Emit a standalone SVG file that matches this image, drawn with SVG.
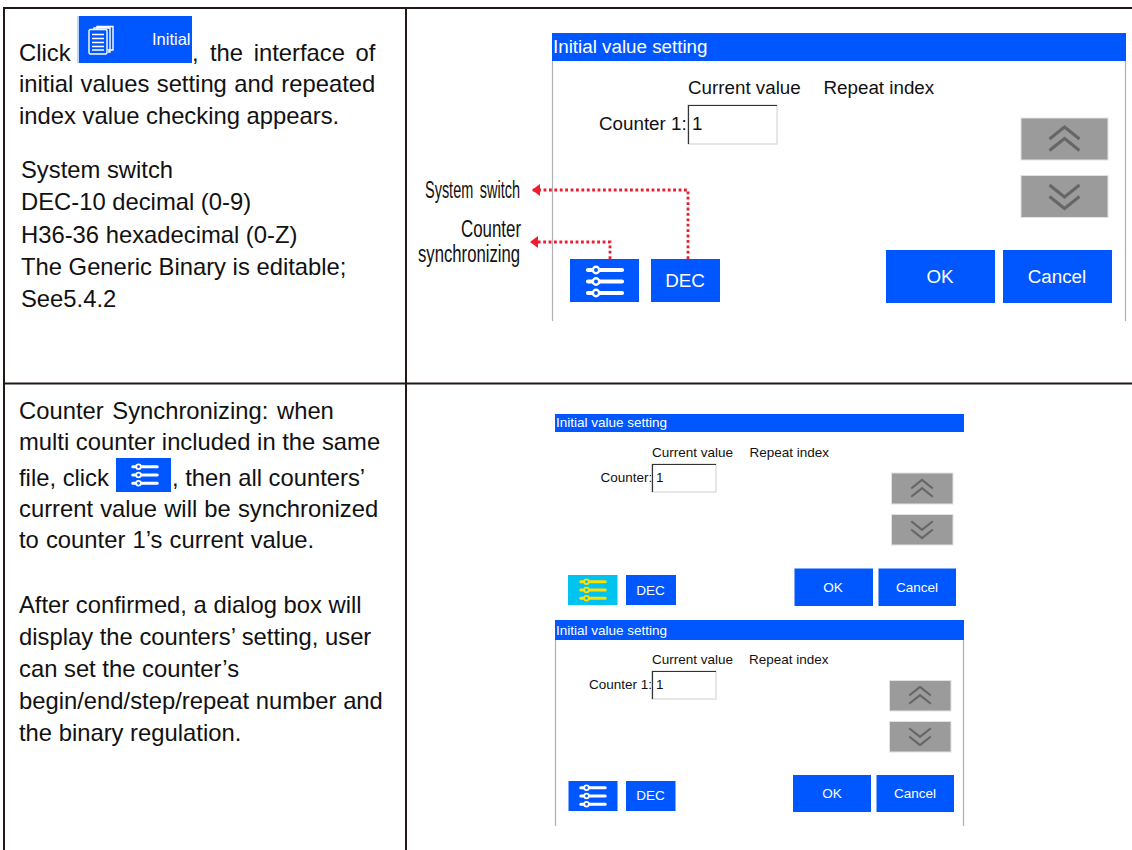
<svg xmlns="http://www.w3.org/2000/svg" width="1132" height="850" viewBox="0 0 1132 850">
<style>
text{font-family:"Liberation Sans",Arial,sans-serif}
.b{font-size:23.8px;fill:#111}
.tl{fill:none;stroke:#231815;stroke-width:2}
.blue{fill:#0057ff}
.gray{fill:#9b9b9b;stroke:#e2e2e2;stroke-width:1}
.w{fill:#fff;text-anchor:middle}
.bk{fill:#111}
.f1{font-size:18.8px}
.f2{font-size:13.500px}
.side{stroke:#b0b0b0;stroke-width:1.2;fill:none}
.con{fill:none;stroke:#ee1c2e;stroke-width:2.8;stroke-dasharray:2.8 2.6}
.cond{font-size:23px;fill:#111}
.inp{fill:#fff;stroke:#cfcfcf;stroke-width:1}
.inpd{fill:none;stroke:#333;stroke-width:1.2}
</style>
<defs>
<marker id="arr" markerUnits="userSpaceOnUse" markerWidth="9" markerHeight="12" refX="8" refY="6" orient="auto"><path d="M0 0L8 6L0 12Z" fill="#ee1c2e"/></marker>
<g id="sync"><path d="M-17 -11.500H17M-17 0H17M-17 11.500H17" stroke="#fff" stroke-width="4.200" stroke-linecap="round" fill="none"/><g fill="#0057ff" stroke="#fff" stroke-width="2.400"><circle cx="-9" cy="-11.500" r="3.200"/><circle cx="-9" cy="0" r="3.200"/><circle cx="-9" cy="11.500" r="3.200"/></g></g>
<g id="syncA"><path d="M-17 -11.500H17M-17 0H17M-17 11.500H17" stroke="#ffe000" stroke-width="4.200" stroke-linecap="round" fill="none"/><g fill="#00c3f0" stroke="#ffe000" stroke-width="2.400"><circle cx="-9" cy="-11.500" r="3.200"/><circle cx="-9" cy="0" r="3.200"/><circle cx="-9" cy="11.500" r="3.200"/></g></g>
<path id="up" d="M-15 0L0 -12L15 0M-15 11.500L0 -0.500L15 11.500" fill="none" stroke="#666" stroke-width="3"/>
<path id="down" d="M-15 0L0 12L15 0M-15 -11.500L0 0.500L15 -11.500" fill="none" stroke="#666" stroke-width="3"/>
</defs>
<rect width="1132" height="850" fill="#fff"/>

<g id="table">
<path class="tl" d="M4 851V8H1132M406 8V851M4 383.500H1132"/>
</g>

<g id="text-top">
<text class="b" x="19" y="61">Click</text>
<rect x="77" y="16" width="115" height="47" fill="#bcd6fb"/>
<rect x="79" y="16" width="113" height="47" class="blue"/>
<g fill="none" stroke="#fff" stroke-width="1.400">
<path d="M97 29V26.500H113V50H108M94 29V28H110V52H108"/>
<rect x="89" y="29.500" width="18" height="24.500" rx="1.500" fill="#0057ff"/>
<path d="M92 34.500H104M92 38.500H104M92 42.500H104M92 46.500H104M92 50H104" stroke-width="1.500"/>
</g>
<text x="152" y="45" font-size="16.500" fill="#fff">Initial</text>
<text class="b" x="192" y="61">,</text>
<text class="b" x="210" y="61" word-spacing="4">the interface of</text>
<text class="b" x="19" y="92" word-spacing="0.750">initial values setting and repeated</text>
<text class="b" x="19" y="124">index value checking appears.</text>
<text class="b" x="21" y="177.500">System switch</text>
<text class="b" x="21" y="210">DEC-10 decimal (0-9)</text>
<text class="b" x="21" y="242.500">H36-36 hexadecimal (0-Z)</text>
<text class="b" x="21" y="275">The Generic Binary is editable;</text>
<text class="b" x="21" y="307">See5.4.2</text>
</g>

<g id="text-bottom">
<text class="b" x="19" y="419" word-spacing="2">Counter Synchronizing: when</text>
<text class="b" x="19" y="450">multi counter included in the same</text>
<text class="b" x="19" y="486">file, click</text>
<rect x="116" y="458" width="55" height="34" class="blue"/>
<use href="#sync" transform="translate(145 475) scale(.72)"/>
<text class="b" x="172" y="486">, then all counters’</text>
<text class="b" x="19" y="517" word-spacing="0.500">current value will be synchronized</text>
<text class="b" x="19" y="548" word-spacing="0.500">to counter 1’s current value.</text>
<text class="b" x="19" y="612.500">After confirmed, a dialog box will</text>
<text class="b" x="19" y="645">display the counters’ setting, user</text>
<text class="b" x="19" y="677">can set the counter’s</text>
<text class="b" x="19" y="709">begin/end/step/repeat number and</text>
<text class="b" x="19" y="741">the binary regulation.</text>
</g>

<g id="dialog-1">
<path class="side" d="M552.500 61V321M1125.500 61V321"/>
<rect x="552" y="33" width="574" height="28" class="blue"/>
<text class="f1" x="553" y="53" fill="#fff">Initial value setting</text>
<text class="bk f1" x="688" y="94">Current value</text>
<text class="bk f1" x="823.500" y="94">Repeat index</text>
<text class="bk f1" x="599" y="130">Counter 1:</text>
<rect class="inp" x="688" y="105" width="89" height="39"/>
<path class="inpd" d="M688.500 144V105.500H777"/>
<text class="bk f1" x="692" y="130">1</text>
<rect class="gray" x="1021" y="118" width="87" height="42"/>
<use href="#up" transform="translate(1064.500 139)"/>
<rect class="gray" x="1021" y="175.500" width="87" height="42"/>
<use href="#down" transform="translate(1064.500 196.500)"/>
<rect class="blue" x="886" y="250" width="109" height="53"/>
<text class="w f1" x="940" y="283">OK</text>
<rect class="blue" x="1003" y="250" width="109" height="53"/>
<text class="w f1" x="1057" y="283">Cancel</text>
<rect class="blue" x="570" y="259" width="69" height="43"/>
<use href="#sync" transform="translate(605 281.500)"/>
<rect class="blue" x="651" y="259" width="69" height="43"/>
<text class="w f1" x="685" y="287">DEC</text>
</g>

<g id="labels">
<text class="cond" x="425" y="198" textLength="95" lengthAdjust="spacingAndGlyphs" word-spacing="4">System switch</text>
<text class="cond" x="461" y="237" textLength="60" lengthAdjust="spacingAndGlyphs">Counter</text>
<text class="cond" x="418" y="262" textLength="102" lengthAdjust="spacingAndGlyphs">synchronizing</text>
</g>

<g id="connectors">
<path class="con" d="M688 259V190H532" marker-end="url(#arr)"/>
<path class="con" d="M610 259V242H530" marker-end="url(#arr)"/>
</g>

<g id="dialog-2">
<rect x="555" y="414" width="409" height="18" class="blue"/>
<text class="f2" x="556" y="427" fill="#fff">Initial value setting</text>
<text class="bk f2" x="652" y="456.500">Current value</text>
<text class="bk f2" x="749.500" y="456.500">Repeat index</text>
<text class="bk f2" x="600.500" y="482">Counter:</text>
<rect class="inp" x="652" y="464" width="64" height="28"/>
<path class="inpd" d="M652.500 492V464.500H716"/>
<text class="bk f2" x="656" y="482">1</text>
<rect class="gray" x="891.500" y="473" width="61.500" height="31"/>
<use href="#up" transform="translate(922 488.500) scale(.72)"/>
<rect class="gray" x="891.500" y="514.500" width="61.500" height="30.500"/>
<use href="#down" transform="translate(922 529.500) scale(.72)"/>
<rect class="blue" x="794.500" y="568.500" width="78.500" height="37.500"/>
<text class="w f2" x="833" y="591.500">OK</text>
<rect class="blue" x="878.500" y="568.500" width="77.500" height="37.500"/>
<text class="w f2" x="917" y="591.500">Cancel</text>
<rect x="568" y="575" width="49.500" height="30" fill="#00c3f0"/>
<use href="#syncA" transform="translate(593 590) scale(.72)"/>
<rect class="blue" x="626" y="575" width="50" height="30"/>
<text class="w f2" x="650.500" y="594.500">DEC</text>
</g>

<g id="dialog-3">
<path class="side" d="M555.500 640V826M963.500 640V826"/>
<rect x="555" y="620" width="409" height="20" class="blue"/>
<text class="f2" x="556" y="634.500" fill="#fff">Initial value setting</text>
<text class="bk f2" x="652" y="664">Current value</text>
<text class="bk f2" x="749" y="664">Repeat index</text>
<text class="bk f2" x="589" y="689">Counter 1:</text>
<rect class="inp" x="652" y="671" width="64" height="28"/>
<path class="inpd" d="M652.500 699V671.500H716"/>
<text class="bk f2" x="656" y="689">1</text>
<rect class="gray" x="889.500" y="680.500" width="61.500" height="30.500"/>
<use href="#up" transform="translate(920 695.500) scale(.72)"/>
<rect class="gray" x="889.500" y="721.500" width="61.500" height="30.500"/>
<use href="#down" transform="translate(920 736.500) scale(.72)"/>
<rect class="blue" x="793" y="775" width="78" height="37"/>
<text class="w f2" x="832" y="797.500">OK</text>
<rect class="blue" x="876.500" y="775" width="77.500" height="37"/>
<text class="w f2" x="915" y="797.500">Cancel</text>
<rect class="blue" x="568.500" y="781" width="49" height="30"/>
<use href="#sync" transform="translate(593 796) scale(.72)"/>
<rect class="blue" x="626" y="781" width="49.500" height="30"/>
<text class="w f2" x="650.500" y="800">DEC</text>
</g>
</svg>
